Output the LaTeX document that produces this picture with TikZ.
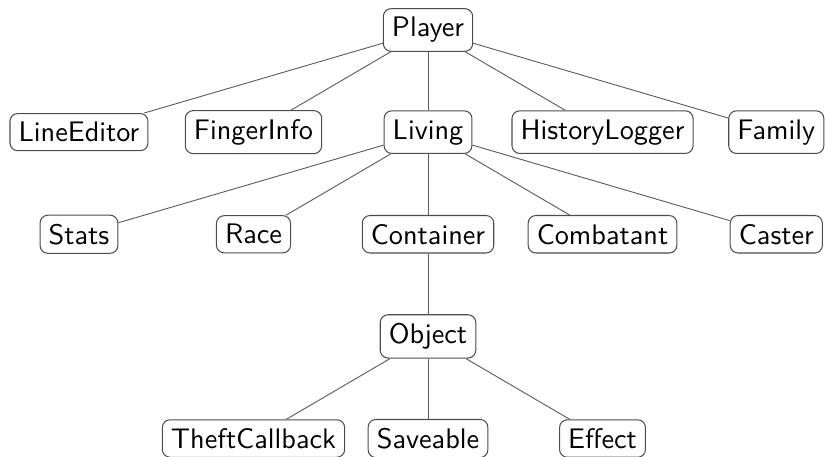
\documentclass[tikz,border=0pt]{standalone}
\usepackage{tikz}

\tikzset{cls/.style={draw=black!70, text=black, rounded corners=3pt, font=\sffamily\fontsize{10.95}{13.6}\selectfont},
	link/.style={draw=black!65, line width=0.35pt}}

\begin{document}
\begin{tikzpicture}
			%%%%% START %%%%%
			
			\useasboundingbox (-5.825, 0.408) rectangle (5.403, -5.798);
			
			\node[cls] (player) at (0, 0) {Player};
			
			\node[cls] (lineeditor) at (-4.75, -1.39) {LineEditor};
			\node[cls] (fingerinfo) at (-2.375, -1.39) {FingerInfo};
			\node[cls] (living) at (0, -1.39) {Living};
			\node[cls] (historylogger) at (2.375, -1.39) {HistoryLogger};
			\node[cls] (family) at (4.74, -1.39) {Family};
			
			\node[cls] (stats) at (-4.75, -2.78) {Stats};
			\node[cls] (race) at (-2.375, -2.78) {Race};
			\node[cls] (container) at (0, -2.78) {Container};
			\node[cls] (combatant) at (2.375, -2.78) {Combatant};
			\node[cls] (caster) at (4.74, -2.78) {Caster};
			
			\node[cls] (object) at (0, -4.17) {Object};
			
			\node[cls] (theftcallback) at (-2.375, -5.56) {TheftCallback};
			\node[cls] (saveable) at (0, -5.56) {Saveable};
			\node[cls] (effect) at (2.375, -5.56) {Effect};
			
			\draw[link] (player) -- (lineeditor);
			\draw[link] (player) -- (fingerinfo);
			\draw[link] (player) -- (living);
			\draw[link] (player) -- (historylogger);
			\draw[link] (player) -- (family);
			
			\draw[link] (living) -- (stats);
			\draw[link] (living) -- (race);
			\draw[link] (living) -- (container);
			\draw[link] (living) -- (combatant);
			\draw[link] (living) -- (caster);
			
			\draw[link] (container) -- (object);
			
			\draw[link] (object) -- (theftcallback);
			\draw[link] (object) -- (saveable);
			\draw[link] (object) -- (effect);
			
			%%%%% END %%%%%
		\end{tikzpicture}
\end{document}
